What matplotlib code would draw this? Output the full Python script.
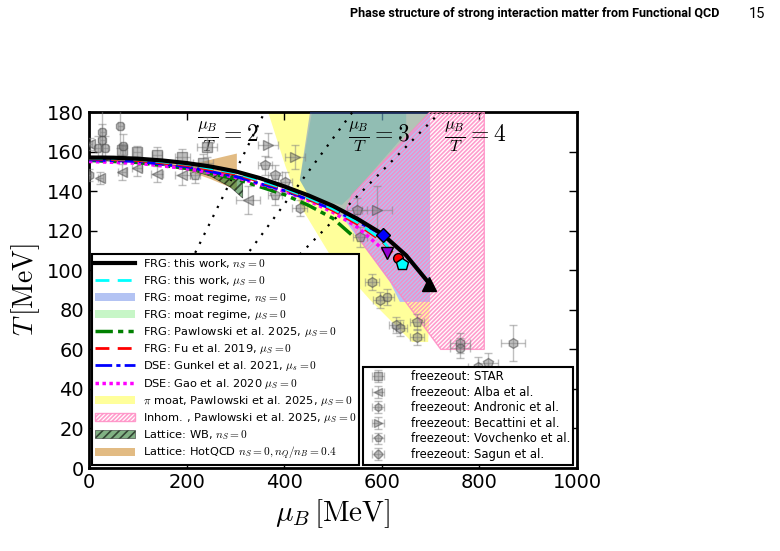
import numpy as np
import matplotlib.pyplot as plt

plt.rcParams['mathtext.fontset'] = 'cm'
plt.rcParams['font.family'] = 'DejaVu Sans'
plt.rcParams['hatch.linewidth'] = 1.2

# ---- transition lines (mu_B [MeV], T [MeV]) ----
mu_frg_ns = [0, 50, 100, 150, 200, 250, 300, 350, 400, 450, 500, 550, 600, 650, 695]
T_frg_ns = [157, 156.9, 156.4, 155.5, 154.2, 152.4, 150.0, 146.6, 142.4, 137.8, 132.5, 126.0, 118.5, 107.5, 94]
mu_frg_mus = [0, 100, 200, 300, 400, 450, 500, 550, 600, 641]
T_frg_mus = [156.7, 156.0, 153.6, 149.2, 141.4, 136.6, 131.0, 124.2, 115.5, 103]
mu_fu = [0, 100, 200, 300, 400, 450, 500, 550, 600, 633]
T_fu = [156.3, 155.5, 153.0, 148.6, 141.0, 136.0, 130.2, 123.3, 114.8, 106]
mu_gunkel = [0, 100, 200, 300, 400, 450, 500, 550, 602]
T_gunkel = [155.8, 155.0, 152.3, 147.4, 140.3, 135.7, 130.6, 124.6, 117.8]
mu_paw = [0, 100, 200, 300, 400, 450, 500, 540]
T_paw = [155.5, 154.5, 151.5, 146.2, 138.3, 132.8, 126.2, 117.5]
mu_gao = [0, 100, 200, 300, 400, 450, 500, 550, 611]
T_gao = [155.0, 154.1, 151.4, 147.0, 140.0, 135.2, 129.3, 121.8, 108.7]

# ---- regions ----
moat_ns_mu = [453, 699, 699, 637, 617, 518, 453, 432]
moat_ns_T = [180, 180, 84, 84, 94, 127.4, 136.5, 145.6]
moat_mus_mu = [457, 650, 650, 539, 518, 453, 432]
moat_mus_T = [180, 180, 169.4, 138, 133, 136.5, 145.6]
pimoat_mu = [367, 699, 539, 518, 617, 637, 699, 695, 662, 576, 494, 432, 402]
pimoat_T = [180, 180, 138, 127.4, 94, 84, 84, 63.7, 63.7, 85, 107.7, 133, 153]
inhom_mu = [539, 699, 810, 810, 721, 555, 525]
inhom_T = [138, 180, 180, 60, 60, 115.3, 129.4]
wb_mu = [0, 100, 200, 270, 315, 315, 290, 250, 200, 100, 0]
wb_T = [156.2, 155.2, 152.3, 148.8, 147.5, 136.5, 142.0, 147.5, 151.3, 154.6, 155.6]
hot_mu = [0, 150, 200, 303, 303, 250, 200, 150, 0]
hot_T = [156.5, 155.0, 153.0, 159.0, 140.5, 146.0, 150.5, 153.5, 156.0]

ratios = [2, 3, 4]

# ---- freezeout points ----
star_mu = [68, 98, 139, 191, 234, 242]
star_T = [160.8, 159.8, 158.2, 157.1, 154.0, 162.3]
star_xe = [5, 8, 10, 15, 20, 20]
star_Te = [3, 3, 4, 4, 5, 5]
alba_mu = [2, 23, 68, 98, 139, 191, 326]
alba_T = [164, 146.6, 149.6, 151.7, 148.6, 148.1, 135.5]
alba_xe = [5, 5, 8, 10, 12, 15, 25]
alba_Te = [3, 3, 4, 4, 4, 5, 7]
andr_mu = [0, 432, 580, 596, 629, 637, 672, 760, 869, 797]
andr_T = [148, 131.4, 94, 85, 72.3, 70.8, 66.2, 63.2, 63.2, 51]
andr_xe = [5, 15, 15, 15, 15, 15, 15, 20, 25, 20]
andr_Te = [3, 4, 4, 4, 4, 4, 4, 5, 9, 5]
beca_mu = [367, 422, 590]
beca_T = [163.3, 157.2, 130.4]
beca_xe = [20, 20, 30]
beca_Te = [6, 6, 12]
vovc_mu = [217, 361, 381, 402, 381, 549, 555, 672, 818]
vovc_T = [148, 153, 148, 144.6, 138, 130.4, 116.8, 73.8, 53]
vovc_xe = [10, 15, 15, 15, 15, 20, 15, 15, 20]
vovc_Te = [4, 5, 5, 5, 5, 6, 5, 4, 5]
sagu_mu = [27, 64, 27, 18, 33, 70, 611, 760]
sagu_T = [170, 173, 166, 162, 162, 163, 86.5, 60.7]
sagu_xe = [5, 5, 5, 5, 5, 5, 15, 20]
sagu_Te = [12, 11, 8, 6, 6, 6, 4, 5]

fig = plt.figure(figsize=(7.8, 5.51), dpi=100)
ax = fig.add_axes([0.1141, 0.1506, 0.6256, 0.6461])

# regions
yel, = ax.fill(pimoat_mu, pimoat_T, color='#ffff66', alpha=0.65, lw=0, zorder=1)
grn, = ax.fill(moat_mus_mu, moat_mus_T, color='#90ee90', alpha=0.5, lw=0, zorder=2)
blu, = ax.fill(moat_ns_mu, moat_ns_T, color='#4169e1', alpha=0.4, lw=0, zorder=3)
pnk, = ax.fill(inhom_mu, inhom_T, facecolor='none', edgecolor='#ff85c0', hatch='////////',
               alpha=0.8, lw=1, zorder=4)
hot, = ax.fill(hot_mu, hot_T, color='#d9a55a', alpha=0.75, lw=0, zorder=2)
wb, = ax.fill(wb_mu, wb_T, facecolor='#2e7d32', edgecolor='black', hatch='////',
              alpha=0.6, lw=0.5, zorder=3)

# constant mu_B/T lines
mu_line = np.array([0, 1000])
for r in ratios:
    ax.plot(mu_line, mu_line / r, color='black', ls=(0, (1, 3.5)), lw=1.6, zorder=5)
for r, xl in zip(ratios, [222, 530, 728]):
    ax.text(xl, 167, r'$\frac{\mu_B}{T}=%d$' % r, fontsize=17, va='center', zorder=5)

# freezeout
fo = dict(color='gray', ecolor='gray', alpha=0.5, capsize=3, ms=7, mec='#444444',
          elinewidth=1, ls='none', zorder=6)
e1 = ax.errorbar(star_mu, star_T, xerr=star_xe, yerr=star_Te, fmt='s', **fo)
e2 = ax.errorbar(alba_mu, alba_T, xerr=alba_xe, yerr=alba_Te, fmt='<', **fo)
e3 = ax.errorbar(andr_mu, andr_T, xerr=andr_xe, yerr=andr_Te, fmt='h', **fo)
e4 = ax.errorbar(beca_mu, beca_T, xerr=beca_xe, yerr=beca_Te, fmt='>', **fo)
e5 = ax.errorbar(vovc_mu, vovc_T, xerr=vovc_xe, yerr=vovc_Te, fmt='p', **fo)
e6 = ax.errorbar(sagu_mu, sagu_T, xerr=sagu_xe, yerr=sagu_Te, fmt='8', **fo)

# lines
l_paw, = ax.plot(mu_paw, T_paw, color='green', ls=(0, (5, 1.5, 1.5, 1.5, 1.5, 1.5)), lw=2.5, zorder=7)
l_gao, = ax.plot(mu_gao, T_gao, color='magenta', ls=(0, (1, 1)), lw=2.5, zorder=7)
l_gun, = ax.plot(mu_gunkel, T_gunkel, color='blue', ls=(0, (6, 1.5, 1.5, 1.5)), lw=2, zorder=7)
l_fu, = ax.plot(mu_fu, T_fu, color='red', ls=(0, (5, 3)), lw=2, zorder=7)
l_mus, = ax.plot(mu_frg_mus, T_frg_mus, color='cyan', ls=(0, (5, 3)), lw=2, zorder=7)
l_ns, = ax.plot(mu_frg_ns, T_frg_ns, color='black', lw=3, zorder=8)

# end points
ax.plot(mu_gunkel[-1], T_gunkel[-1], 'D', color='blue', mec='k', ms=7, zorder=9)
ax.plot(mu_gao[-1], T_gao[-1], 'v', color='darkviolet', mec='k', ms=8, zorder=9)
ax.plot(mu_fu[-1], T_fu[-1], 'o', color='red', mec='k', ms=7, zorder=9)
ax.plot(mu_frg_mus[-1], T_frg_mus[-1], 'p', color='cyan', mec='k', ms=9, zorder=9)
ax.plot(mu_frg_ns[-1] + 2, T_frg_ns[-1] - 1, '^', color='black', ms=10, zorder=9)

ax.set_xlim(0, 1000)
ax.set_ylim(0, 180)
ax.set_xticks(np.arange(0, 1001, 200))
ax.set_yticks(np.arange(0, 181, 20))
ax.tick_params(direction='in', top=True, right=True, length=6, width=1, labelsize=14)
for s in ax.spines.values():
    s.set_linewidth(2)
ax.set_xlabel(r'$\mu_B\,[\mathrm{MeV}]$', fontsize=21)
ax.set_ylabel(r'$T\,[\mathrm{MeV}]$', fontsize=20)

leg1 = ax.legend(
    [l_ns, l_mus, blu, grn, l_paw, l_fu, l_gun, l_gao, yel, pnk, wb, hot],
    [r'FRG: this work, $n_S=0$',
     r'FRG: this work, $\mu_S=0$',
     r'FRG: moat regime, $n_S=0$',
     r'FRG: moat regime, $\mu_S=0$',
     r'FRG: Pawlowski et al. 2025, $\mu_S=0$',
     r'FRG: Fu et al. 2019, $\mu_S=0$',
     r'DSE: Gunkel et al. 2021, $\mu_s=0$',
     r'DSE: Gao et al. 2020 $\mu_S=0$',
     r'$\pi$ moat, Pawlowski et al. 2025, $\mu_S=0$',
     r'Inhom. , Pawlowski et al. 2025, $\mu_S=0$',
     r'Lattice: WB, $n_S=0$',
     r'Lattice: HotQCD $n_S=0, n_Q/n_B=0.4$'],
    loc='lower left', bbox_to_anchor=(0.0, 0.0), borderaxespad=0.25, fontsize=8.2,
    handlelength=3.5, labelspacing=0.27, fancybox=False, framealpha=1, edgecolor='black',
    borderpad=0.25, handletextpad=0.7)
leg1.get_frame().set_linewidth(1.5)
leg1.set_zorder(20)
ax.add_artist(leg1)

leg2 = ax.legend(
    [e1, e2, e3, e4, e5, e6],
    ['freezeout: STAR', 'freezeout: Alba et al.', 'freezeout: Andronic et al.',
     'freezeout: Becattini et al.', 'freezeout: Vovchenko et al.', 'freezeout: Sagun et al.'],
    loc='lower right', bbox_to_anchor=(1.0, 0.0), borderaxespad=0.3, fontsize=8.4,
    labelspacing=0.22, fancybox=False, framealpha=1, edgecolor='black', borderpad=0.3,
    handletextpad=1.8, markerscale=0.8)
leg2.get_frame().set_linewidth(1.5)
leg2.set_zorder(21)

fig.text(0.922, 0.975, 'Phase structure of strong interaction matter from Functional QCD',
         ha='right', va='center', fontsize=9.1, fontweight='bold', family='Roboto')
fig.text(0.981, 0.975, '15', ha='right', va='center', fontsize=10.5, family='Roboto')

fig.savefig('out.png', dpi=100)
